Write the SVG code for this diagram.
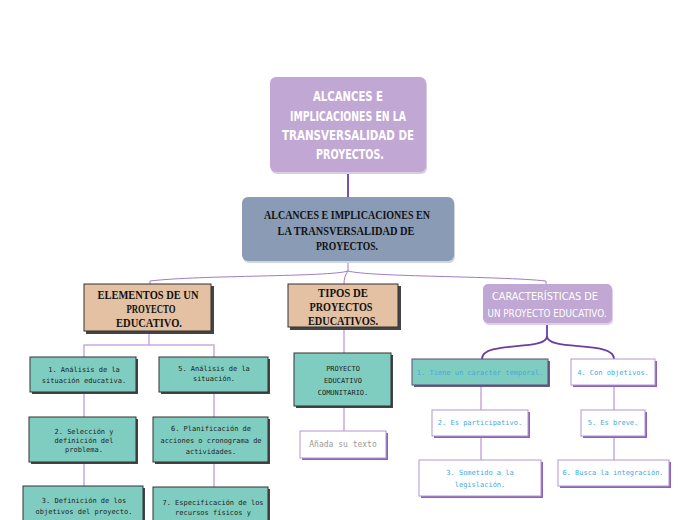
<svg xmlns="http://www.w3.org/2000/svg" width="697" height="520" viewBox="0 0 697 520">
<style>
.hw{font-family:"DejaVu Sans Condensed","DejaVu Sans",sans-serif;fill:#fff;text-anchor:middle}
.sf{font-family:"Liberation Serif",serif;font-weight:bold;fill:#111;text-anchor:middle;font-size:13px}
.mn{font-family:"DejaVu Sans Mono",monospace;font-size:7px;fill:#222;text-anchor:middle}
.gy{font-family:"DejaVu Sans Mono",monospace;font-size:8px;fill:#9a9a9a;text-anchor:middle}
.bl{font-family:"DejaVu Sans Mono",monospace;font-size:7px;fill:#3fa9e0;text-anchor:middle}
.teal{fill:#7fcdc1;stroke:#333;stroke-width:1}
.tan{fill:#e3c1a2;stroke:#333;stroke-width:1}
.shd{fill:#444}
.pshd{fill:#8a62b6}
.wht{fill:#fff;stroke:#b395d3;stroke-width:1}
.lk{fill:none;stroke:#c9a9de;stroke-width:1.5}
.br{fill:none;stroke:#a07cc6;stroke-width:1}
.dk{fill:none;stroke:#6c3ea1;stroke-width:1.8}
</style>
<rect width="697" height="520" fill="#fff"/>
<g id="connectors">
<path class="dk" d="M348,172 V198"/>
<path class="br" d="M348,261 V271 C330,277 200,275 150,281 L150,284"/>
<path class="br" d="M348,271 C345,275 344,279 344,284"/>
<path class="br" d="M348,271 C370,277 500,276 546,281 L546,284"/>
<path class="dk" d="M547,323 V336 C547,352 482,340 482,359"/>
<path class="dk" d="M547,336 C547,352 614,340 614,359"/>
<path class="lk" d="M149,332 V345 M84,357 V345 H214 V357"/>
<path class="lk" d="M84,393 V417 M84,463 V486 M214,393 V417 M214,463 V487"/>
<path class="lk" d="M344,328 V353 M344,407 V431"/>
<path class="lk" d="M481,386 V410 M481,437 V460 M614,386 V410 M614,437 V460"/>
</g>
<g id="n-top">
<rect x="271" y="79" width="156" height="95" rx="6" fill="#d9cde3"/>
<rect x="270" y="77" width="156" height="95" rx="6" fill="#c1a7d3"/>
<text class="hw" font-weight="bold" font-size="14"><tspan x="348" y="101" textLength="70" lengthAdjust="spacingAndGlyphs">ALCANCES E</tspan><tspan x="348" y="121" textLength="116" lengthAdjust="spacingAndGlyphs">IMPLICACIONES EN LA</tspan><tspan x="348" y="140" textLength="132" lengthAdjust="spacingAndGlyphs">TRANSVERSALIDAD DE</tspan><tspan x="350" y="159" textLength="68" lengthAdjust="spacingAndGlyphs">PROYECTOS.</tspan></text>
</g>
<g id="n-main">
<rect x="243" y="199" width="212" height="64" rx="6" fill="#cfd5de"/>
<rect x="242" y="197" width="212" height="64" rx="6" fill="#8a9cb5"/>
<text class="sf"><tspan x="347" y="219" textLength="166" lengthAdjust="spacingAndGlyphs">ALCANCES E IMPLICACIONES EN</tspan><tspan x="346" y="235" textLength="137" lengthAdjust="spacingAndGlyphs">LA TRANSVERSALIDAD DE</tspan><tspan x="347" y="250" textLength="62" lengthAdjust="spacingAndGlyphs">PROYECTOS.</tspan></text>
</g>
<g id="n-elementos">
<rect class="shd" x="86" y="286" width="128" height="48"/>
<rect class="tan" x="84" y="284" width="127" height="47"/>
<text class="sf" font-size="11.5"><tspan x="148" y="299" textLength="101" lengthAdjust="spacingAndGlyphs">ELEMENTOS DE UN</tspan><tspan x="151" y="313" textLength="49" lengthAdjust="spacingAndGlyphs">PROYECTO</tspan><tspan x="149" y="327" textLength="66" lengthAdjust="spacingAndGlyphs">EDUCATIVO.</tspan></text>
</g>
<g id="n-tipos">
<rect class="shd" x="290" y="286" width="111" height="44"/>
<rect class="tan" x="288" y="284" width="110" height="43"/>
<text class="sf" font-size="10.5"><tspan x="343" y="297" textLength="50" lengthAdjust="spacingAndGlyphs">TIPOS DE</tspan><tspan x="341" y="311" textLength="63" lengthAdjust="spacingAndGlyphs">PROYECTOS</tspan><tspan x="343" y="325" textLength="70" lengthAdjust="spacingAndGlyphs">EDUCATIVOS.</tspan></text>
</g>
<g id="n-caract">
<rect x="484" y="286" width="129" height="39" rx="5" fill="#dccfe6"/>
<rect x="483" y="284" width="129" height="39" rx="5" fill="#c1a7d3"/>
<text class="hw" font-size="11"><tspan x="545" y="300" textLength="106" lengthAdjust="spacingAndGlyphs">CARACTERÍSTICAS DE</tspan><tspan x="547" y="317" textLength="119" lengthAdjust="spacingAndGlyphs">UN PROYECTO EDUCATIVO.</tspan></text>
</g>
<g id="n-e1">
<rect class="shd" x="32" y="359" width="106" height="35"/>
<rect class="teal" x="30" y="357" width="106" height="35"/>
<text class="mn"><tspan x="84" y="372">1. Análisis de la</tspan><tspan x="84" y="383">situación educativa.</tspan></text>
</g>
<g id="n-e5">
<rect class="shd" x="161" y="359" width="109" height="35"/>
<rect class="teal" x="159" y="357" width="109" height="35"/>
<text class="mn" font-size="6.6"><tspan x="214" y="371">5. Análisis de la</tspan><tspan x="214" y="381">situación.</tspan></text>
</g>
<g id="n-e2">
<rect class="shd" x="31" y="419" width="107" height="45"/>
<rect class="teal" x="29" y="417" width="107" height="45"/>
<text class="mn" font-size="6.4"><tspan x="84" y="434">2. Selección y</tspan><tspan x="84" y="443">definición del</tspan><tspan x="84" y="452">problema.</tspan></text>
</g>
<g id="n-e6">
<rect class="shd" x="155" y="419" width="115" height="45"/>
<rect class="teal" x="153" y="417" width="115" height="45"/>
<text class="mn"><tspan x="211" y="431">6. Planificación de</tspan><tspan x="211" y="443">acciones o cronograma de</tspan><tspan x="211" y="454">actividades.</tspan></text>
</g>
<g id="n-e3">
<rect class="shd" x="25" y="488" width="120" height="40"/>
<rect class="teal" x="23" y="486" width="120" height="40"/>
<text class="mn"><tspan x="84" y="503">3. Definición de los</tspan><tspan x="84" y="514">objetivos del proyecto.</tspan></text>
</g>
<g id="n-e7">
<rect class="shd" x="155" y="489" width="115" height="40"/>
<rect class="teal" x="153" y="487" width="115" height="40"/>
<text class="mn"><tspan x="213" y="505">7. Especificación de los</tspan><tspan x="213" y="515">recursos físicos y</tspan><tspan x="213" y="526">técnicos.</tspan></text>
</g>
<g id="n-pec">
<rect class="shd" x="296" y="355" width="97" height="53"/>
<rect class="teal" x="294" y="353" width="97" height="53"/>
<text class="mn" font-size="8"><tspan x="343" y="371">PROYECTO</tspan><tspan x="343" y="383">EDUCATIVO</tspan><tspan x="343" y="395">COMUNITARIO.</tspan></text>
</g>
<g id="n-anada">
<rect class="pshd" x="302" y="433" width="86" height="27"/>
<rect class="wht" x="300" y="431" width="86" height="27"/>
<text class="gy"><tspan x="343" y="447">Añada su texto</tspan></text>
</g>
<g id="n-c1">
<rect x="414" y="361" width="136" height="26" fill="#6b5a8a"/>
<rect x="412" y="359" width="136" height="26" fill="#7fcdc1" stroke="#5b4a7a" stroke-width="1"/>
<text class="bl"><tspan x="480" y="375">1. Tiene un caracter temporal.</tspan></text>
</g>
<g id="n-c4">
<rect class="pshd" x="573" y="361" width="84" height="26"/>
<rect class="wht" x="571" y="359" width="84" height="26"/>
<text class="bl"><tspan x="613" y="375">4. Con objetivos.</tspan></text>
</g>
<g id="n-c2">
<rect class="pshd" x="434" y="412" width="96" height="26"/>
<rect class="wht" x="432" y="410" width="96" height="26"/>
<text class="bl"><tspan x="480" y="425">2. Es participativo.</tspan></text>
</g>
<g id="n-c5">
<rect class="pshd" x="583" y="412" width="64" height="26"/>
<rect class="wht" x="581" y="410" width="64" height="26"/>
<text class="bl"><tspan x="613" y="425">5. Es breve.</tspan></text>
</g>
<g id="n-c3">
<rect class="pshd" x="421" y="462" width="122" height="36"/>
<rect class="wht" x="419" y="460" width="122" height="36"/>
<text class="bl"><tspan x="480" y="475">3. Sometido a la</tspan><tspan x="480" y="487">legislación.</tspan></text>
</g>
<g id="n-c6">
<rect class="pshd" x="560" y="462" width="111" height="26"/>
<rect class="wht" x="558" y="460" width="111" height="26"/>
<text class="bl"><tspan x="613" y="475">6. Busca la integración.</tspan></text>
</g>
</svg>
